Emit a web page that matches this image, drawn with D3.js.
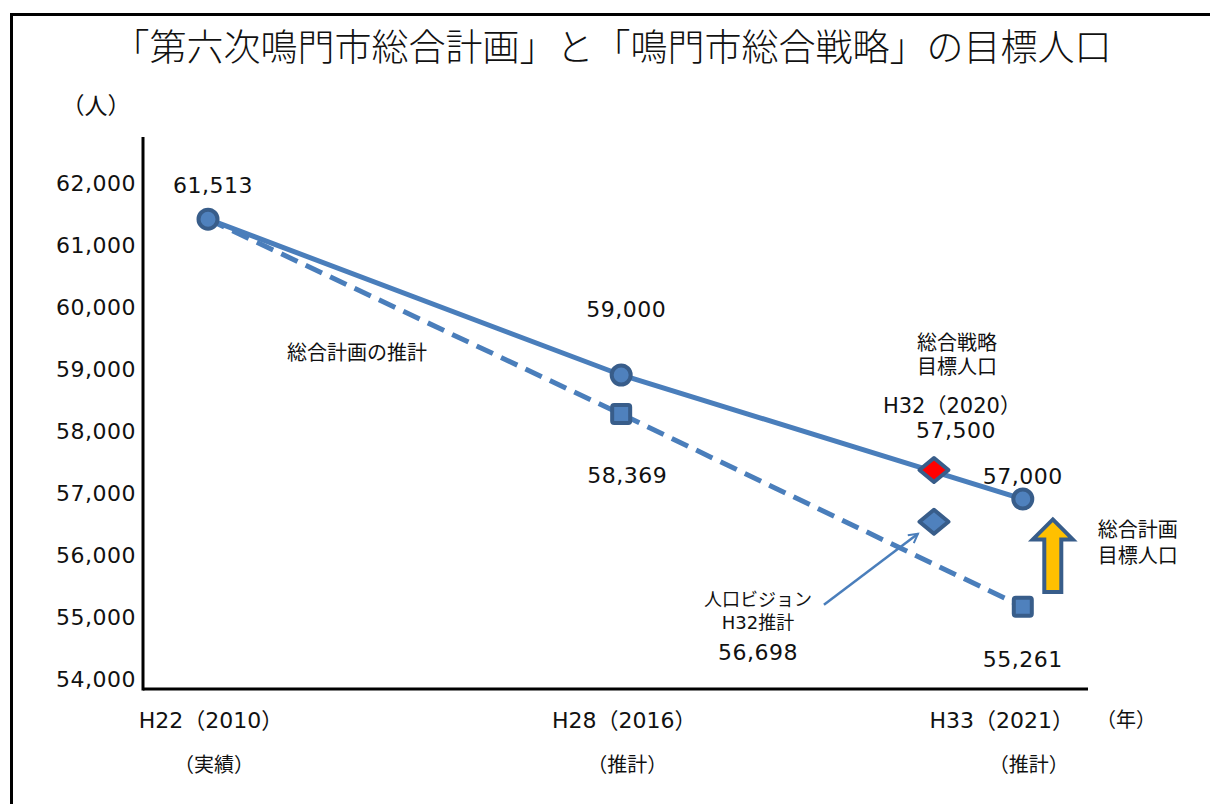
<!DOCTYPE html>
<html><head><meta charset="utf-8">
<script src="https://cdn.jsdelivr.net/npm/d3@7"></script>
<style>
html,body{margin:0;padding:0;background:#fff;}
text{font-family:"DejaVu Sans","Noto Sans CJK JP",sans-serif;fill:#111;}
</style></head>
<body>
<svg id="c" width="1210" height="804"></svg>
<script>
// ---- data ----
const title = "「第六次鳴門市総合計画」と「鳴門市総合戦略」の目標人口";
const yTicks = [54000, 55000, 56000, 57000, 58000, 59000, 60000, 61000, 62000];
const xYears = [2010, 2016, 2020, 2021];
const xLabels = ["H22（2010）", "H28（2016）", "H33（2021）"];
const xLabelYears = [2010, 2016, 2021];
const xSubLabels = ["（実績）", "（推計）", "（推計）"];
const planYears = [2010, 2016, 2021];
const planValues = [61513, 59000, 57000];          // 総合計画 目標人口 (solid)
const estYears = [2010, 2016, 2021];
const estValues = [61513, 58369, 55261];           // 総合計画の推計 (dashed)
const strategyYear = 2020, strategyValue = 57500;  // 総合戦略 目標人口
const visionYear = 2020, visionValue = 56698;      // 人口ビジョン H32推計

const fmt = d3.format(",");
const svg = d3.select("#c");
const blue = "#4a7ebb", mFill = "#4f81bd", mStroke = "#385d8a";

// frame
svg.append("rect").attr("x", 11.5).attr("y", 14.5).attr("width", 1400).attr("height", 1000)
  .attr("fill", "none").attr("stroke", "#000").attr("stroke-width", 3);

// title
svg.append("text").attr("x", 612).attr("y", 45).attr("text-anchor", "middle")
  .attr("dominant-baseline", "central").style("font-size", "37px").style("font-family", "'Noto Sans CJK JP'")
  .style("font-weight", 300).text(title);

// plot geometry
const left = 143, right = 1088, axisY = 689, topY = 137;
const W = right - left;
const x = d3.scaleLinear().domain(xYears)
  .range([left + W * 0.0688, left + W * 0.506, left + W * 0.837, left + W * 0.931]);
const y = d3.scaleLinear().domain([54000, 62000]).range([685, 189]);

// axes lines
svg.append("line").attr("x1", left).attr("x2", left).attr("y1", topY).attr("y2", axisY + 1.5)
  .attr("stroke", "#000").attr("stroke-width", 3);
svg.append("line").attr("x1", left).attr("x2", right).attr("y1", axisY).attr("y2", axisY)
  .attr("stroke", "#000").attr("stroke-width", 3);

// y tick labels
svg.selectAll(".yt").data(yTicks).join("text").attr("class", "yt")
  .attr("x", 136).attr("y", d => y(d) - 6).attr("text-anchor", "end").attr("dominant-baseline", "central")
  .style("font-size", "22px").style("letter-spacing", "0.5px").text(d => fmt(d));
svg.append("text").attr("x", 96).attr("y", 106).attr("text-anchor", "middle").attr("dominant-baseline", "central")
  .style("font-size", "23px").text("（人）");

// x labels
svg.selectAll(".xl").data(xLabels).join("text").attr("class", "xl")
  .attr("x", (d, i) => x(xLabelYears[i]) + (i === 2 ? -21 : 3)).attr("y", 720)
  .attr("text-anchor", "middle").attr("dominant-baseline", "central").style("font-size", "22px").text(d => d);
svg.selectAll(".xs").data(xSubLabels).join("text").attr("class", "xs")
  .attr("x", (d, i) => x(xLabelYears[i]) + 6).attr("y", 765)
  .attr("text-anchor", "middle").attr("dominant-baseline", "central").style("font-size", "20px").text(d => d);
svg.append("text").attr("x", 1126).attr("y", 720).attr("text-anchor", "middle").attr("dominant-baseline", "central")
  .style("font-size", "20px").text("（年）");

// lines
const lineGen = d3.line().x(d => x(d[0])).y(d => y(d[1]));
const estData = estYears.map((yr, i) => [yr, estValues[i]]);
const planData = planYears.map((yr, i) => [yr, planValues[i]]);
svg.append("path").attr("d", lineGen(estData)).attr("fill", "none").attr("stroke", blue)
  .attr("stroke-width", 5).attr("stroke-dasharray", "18,9");
svg.append("path").attr("d", lineGen(planData)).attr("fill", "none").attr("stroke", blue)
  .attr("stroke-width", 5);

// markers: squares for estimate (first one lies under the circle)
svg.selectAll(".sq").data(estData.slice(1)).join("rect").attr("class", "sq")
  .attr("x", d => x(d[0]) - 9).attr("y", d => y(d[1]) - 9).attr("width", 18).attr("height", 18)
  .attr("rx", 2).attr("fill", mFill).attr("stroke", mStroke).attr("stroke-width", 4);
svg.selectAll(".ci").data(planData).join("circle").attr("class", "ci")
  .attr("cx", d => x(d[0])).attr("cy", d => y(d[1])).attr("r", 9.5)
  .attr("fill", mFill).attr("stroke", mStroke).attr("stroke-width", 4);

// diamonds
function diamond(cx, cy, hw, hh) {
  return `M${cx - hw},${cy} L${cx},${cy - hh} L${cx + hw},${cy} L${cx},${cy + hh} Z`;
}
svg.append("path").attr("d", diamond(x(visionYear), y(visionValue) + 4, 14.5, 12))
  .attr("fill", mFill).attr("stroke", mStroke).attr("stroke-width", 4).attr("stroke-linejoin", "round");
svg.append("path").attr("d", diamond(x(strategyYear), y(strategyValue) + 2, 14.5, 12))
  .attr("fill", "#ff0000").attr("stroke", mStroke).attr("stroke-width", 4).attr("stroke-linejoin", "round");

// thin arrow to vision diamond
svg.append("defs").append("marker").attr("id", "ah").attr("viewBox", "0 0 12 12").attr("refX", 10).attr("refY", 6)
  .attr("markerWidth", 12).attr("markerHeight", 12).attr("markerUnits", "userSpaceOnUse").attr("orient", "auto")
  .append("path").attr("d", "M1,1 L10,6 L1,11").attr("fill", "none").attr("stroke", blue).attr("stroke-width", 2);
const vx = x(visionYear), vy = y(visionValue) + 4;
svg.append("line").attr("x1", vx - 110).attr("y1", vy + 83).attr("x2", vx - 16).attr("y2", vy + 12)
  .attr("stroke", blue).attr("stroke-width", 2.5).attr("marker-end", "url(#ah)");

// yellow block arrow
const ax = x(2021) + 30, aTop = y(56670), aBot = y(55500), aHead = aTop + 20;
svg.append("path")
  .attr("d", `M${ax},${aTop} L${ax + 20},${aHead} L${ax + 8.5},${aHead} L${ax + 8.5},${aBot} L${ax - 8.5},${aBot} L${ax - 8.5},${aHead} L${ax - 20},${aHead} Z`)
  .attr("fill", "#ffc000").attr("stroke", mStroke).attr("stroke-width", 4).attr("stroke-linejoin", "miter");

// data / annotation labels
function label(tx, ty, txt, size, cls) {
  svg.append("text").attr("x", tx).attr("y", ty).attr("text-anchor", "middle").attr("dominant-baseline", "central")
    .style("font-size", size + "px")
    .style("letter-spacing", cls === "num" ? "0.5px" : "0px").text(txt);
}
label(x(planYears[0]) + 5, y(planValues[0]) - 34, fmt(planValues[0]), 22, "num");
label(x(planYears[1]) + 5, y(planValues[1]) - 66, fmt(planValues[1]), 22, "num");
label(x(planYears[2]), y(planValues[2]) - 23, fmt(planValues[2]), 22, "num");
label(x(estYears[1]) + 6, y(estValues[1]) + 61, fmt(estValues[1]), 22, "num");
label(x(estYears[2]), y(estValues[2]) + 53, fmt(estValues[2]), 22, "num");
label(x(strategyYear) + 22, y(strategyValue) - 38, fmt(strategyValue), 22, "num");
label(x(strategyYear) + 18, y(strategyValue) - 62, "H32（2020）", 21, "");
label(x(strategyYear) + 23, y(strategyValue) - 125, "総合戦略", 20, "");
label(x(strategyYear) + 23, y(strategyValue) - 101, "目標人口", 20, "");
label(vx - 176, vy + 78, "人口ビジョン", 18, "");
label(vx - 176, vy + 101, "H32推計", 18, "");
label(vx - 176, vy + 131, fmt(visionValue), 22, "num");
label(ax + 85, aTop + 11, "総合計画", 20, "");
label(ax + 85, aTop + 37, "目標人口", 20, "");
label(357, 353, "総合計画の推計", 20, "");
</script>
</body></html>
